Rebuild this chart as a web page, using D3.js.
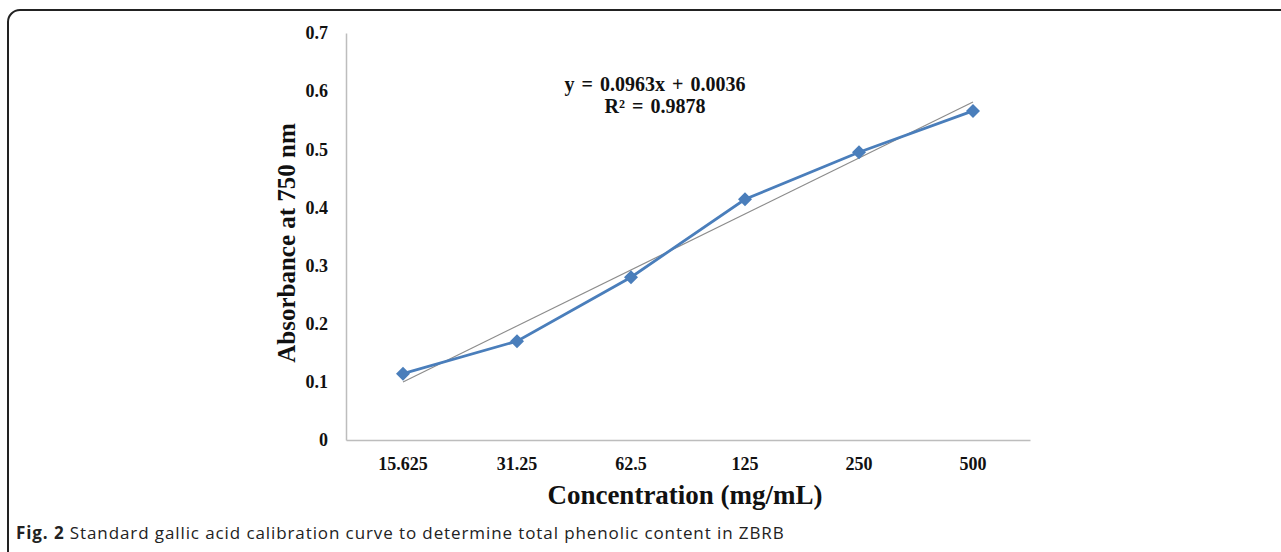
<!DOCTYPE html>
<html>
<head>
<meta charset="utf-8">
<script src="https://cdn.jsdelivr.net/npm/d3@7/dist/d3.min.js"></script>
<style>
  body { margin: 0; background: #fff; }
  svg { display: block; }
</style>
</head>
<body>
<svg id="chart" width="1281" height="552"></svg>
<script>
// data
var concentrations = ["15.625", "31.25", "62.5", "125", "250", "500"];
var absorbance = [0.114, 0.170, 0.280, 0.414, 0.495, 0.566];
var yTicks = [0, 0.1, 0.2, 0.3, 0.4, 0.5, 0.6, 0.7];
var trendCoef = [0.0963, 0.0036];   // slope, intercept (x = category index 1..6)
var equationLines = ["y = 0.0963x + 0.0036", "R\u00b2 = 0.9878"];

var svg = d3.select("#chart"),
    margin = {top: 33, left: 346, right: 251, bottom: 112},
    width = +svg.attr("width") - margin.left - margin.right,
    height = +svg.attr("height") - margin.top - margin.bottom;

// outer frame
svg.append("rect")
    .attr("x", 8).attr("y", 10)
    .attr("width", 1300).attr("height", 600)
    .attr("rx", 12).attr("ry", 12)
    .attr("fill", "none")
    .attr("stroke", "#222")
    .attr("stroke-width", 2);

var chart = svg.append("g").attr("transform", "translate(" + margin.left + "," + margin.top + ")");

var x = d3.scaleBand()
    .domain(concentrations)
    .range([0, width]);

var y = d3.scaleLinear()
    .domain([0, 0.7])
    .range([height, 0]);

var serif = "'Liberation Serif', 'Times New Roman', serif";

// axes
var xAxis = chart.append("g")
    .attr("transform", "translate(0," + height + ")")
    .call(d3.axisBottom(x).tickSize(0).tickPadding(17));

var yAxis = chart.append("g")
    .call(d3.axisLeft(y).tickValues(yTicks).tickSize(0).tickPadding(18)
        .tickFormat(function(d) { return d === 0 ? "0" : d3.format(".1f")(d); }));

[xAxis, yAxis].forEach(function(a) {
    a.select(".domain").attr("stroke", "#bdbdbd").attr("stroke-width", 1.5);
    a.selectAll("text")
        .attr("font-family", serif)
        .attr("font-weight", "bold")
        .attr("font-size", 18)
        .attr("fill", "#111");
});

// trendline
var trend = [1, concentrations.length].map(function(i) {
    return {c: concentrations[i - 1], v: trendCoef[0] * i + trendCoef[1]};
});
chart.append("line")
    .attr("x1", x(trend[0].c) + x.bandwidth() / 2)
    .attr("y1", y(trend[0].v))
    .attr("x2", x(trend[1].c) + x.bandwidth() / 2)
    .attr("y2", y(trend[1].v))
    .attr("stroke", "#8c8c8c")
    .attr("stroke-width", 1.2);

// series line
var line = d3.line()
    .x(function(d, i) { return x(concentrations[i]) + x.bandwidth() / 2; })
    .y(function(d) { return y(d); });

chart.append("path")
    .datum(absorbance)
    .attr("d", line)
    .attr("fill", "none")
    .attr("stroke", "#4a7ebb")
    .attr("stroke-width", 2.8);

chart.selectAll(".marker")
    .data(absorbance)
    .enter().append("path")
    .attr("class", "marker")
    .attr("d", d3.symbol().type(d3.symbolDiamond2).size(125))
    .attr("transform", function(d, i) {
        return "translate(" + (x(concentrations[i]) + x.bandwidth() / 2) + "," + y(d) + ")";
    })
    .attr("fill", "#4a7ebb");

// equation label
chart.append("g")
    .selectAll("text")
    .data(equationLines)
    .enter().append("text")
    .attr("x", 309)
    .attr("y", function(d, i) { return 58 + i * 22; })
    .attr("text-anchor", "middle")
    .attr("font-family", serif)
    .attr("font-weight", "bold")
    .attr("font-size", 20)
    .attr("word-spacing", 2)
    .attr("fill", "#111")
    .text(function(d) { return d; });

// axis titles
svg.append("text")
    .attr("transform", "translate(295,243) rotate(-90)")
    .attr("text-anchor", "middle")
    .attr("font-family", serif)
    .attr("font-weight", "bold")
    .attr("font-size", 25)
    .attr("fill", "#111")
    .text("Absorbance at 750 nm");

svg.append("text")
    .attr("x", 685)
    .attr("y", 504)
    .attr("text-anchor", "middle")
    .attr("font-family", serif)
    .attr("font-weight", "bold")
    .attr("font-size", 27)
    .attr("fill", "#111")
    .text("Concentration (mg/mL)");

// caption
var caption = svg.append("text")
    .attr("x", 16)
    .attr("y", 539)
    .attr("font-family", "'Open Sans', sans-serif")
    .attr("font-size", 17)
    .attr("letter-spacing", 0.9)
    .attr("fill", "#222");
caption.append("tspan").attr("font-weight", "bold").text("Fig. 2");
caption.append("tspan").text(" Standard gallic acid calibration curve to determine total phenolic content in ZBRB");
</script>
</body>
</html>
